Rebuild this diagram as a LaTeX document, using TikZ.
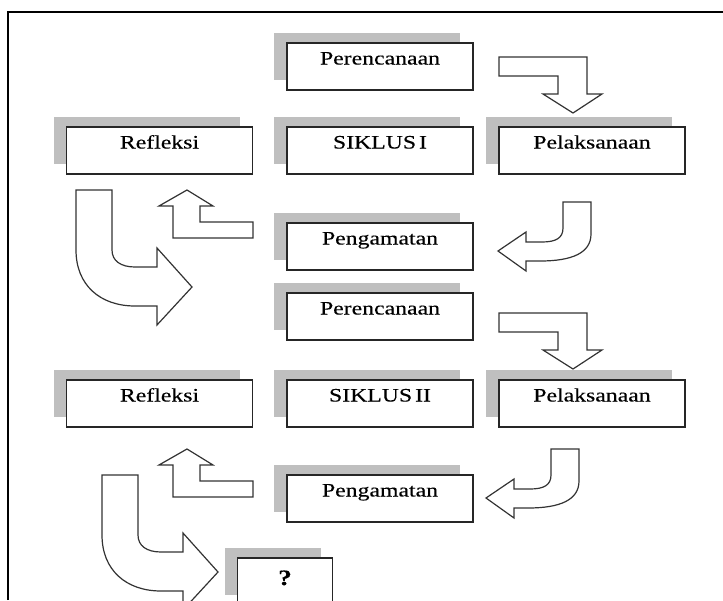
\documentclass[tikz,border=0pt]{standalone}
\usepackage{fontspec}
\setmainfont{Liberation Serif}[FakeStretch=1.25,FakeBold=0.3]
\usetikzlibrary{positioning,shadows}

\tikzset{
  stage/.style={draw=black!85, line width=1.1pt, fill=white, inner sep=0pt,
    minimum width=186pt, text height=21.5pt, text depth=25.5pt,
    font=\fontsize{19}{22}\selectfont,
    general shadow={fill=gray!50, shadow xshift=-13pt, shadow yshift=10pt}},
  blockarrow/.style={draw=black!80, line width=1.2pt, fill=white, line join=miter}
}

\begin{document}
\begin{tikzpicture}[x=1pt,y=-1pt,node distance=84pt,on grid]
		\useasboundingbox (0,0) rectangle (723,600);
		\draw[line width=1.4pt] (8,600) -- (8,12) -- (723,12);
		% siklus I
		\node[stage] (plan1) at (380,66.5) {Perencanaan};
		\node[stage] (cyc1) [below=84pt of plan1] {SIKLUS\hspace{3pt}I};
		\node[stage] (act1) [right=212pt of cyc1] {Pelaksanaan};
		\node[stage] (refl1) [left=220.5pt of cyc1] {Refleksi};
		\node[stage] (obs1) [below=96pt of cyc1] {Pengamatan};
		% siklus II
		\node[stage] (plan2) [below=70pt of obs1] {Perencanaan};
		\node[stage] (cyc2) [below=87pt of plan2] {SIKLUS\hspace{3pt}II};
		\node[stage] (act2) [right=212pt of cyc2] {Pelaksanaan};
		\node[stage] (refl2) [left=220.5pt of cyc2] {Refleksi};
		\node[stage] (obs2) [below=95pt of cyc2] {Pengamatan};
		\node[stage, minimum width=95pt, text height=27pt, text depth=20pt,
		  font=\fontsize{22}{24}\selectfont\bfseries,
		  general shadow={fill=gray!50, shadow xshift=-12pt, shadow yshift=10pt}]
		  (next) at (285,581.5) {?};
		% block arrows, siklus I
		\draw[blockarrow] (499,57) -- (587,57) -- (587,94) -- (602,94) -- (573,113)
		  -- (543,94) -- (558,94) -- (558,76) -- (499,76) -- cycle;
		\draw[blockarrow] (563,202) -- (591,202) -- (591,234)
		  .. controls (591,253) and (572,261) .. (540,261) -- (526,261) -- (526,271)
		  -- (498,251) -- (526,232) -- (526,242) -- (542,242)
		  .. controls (556,242) and (563,238) .. (563,228) -- cycle;
		\draw[blockarrow] (253,222) -- (200,222) -- (200,206) -- (213,206) -- (187,190)
		  -- (159,206) -- (173,206) -- (173,238) -- (253,238) -- cycle;
		\draw[blockarrow] (76,190) -- (112,190) -- (112,250)
		  .. controls (112,261) and (121,267) .. (135,267) -- (157,267) -- (157,248)
		  -- (192,287) -- (157,325) -- (157,306) -- (135,306)
		  .. controls (100,306) and (76,285) .. (76,250) -- cycle;
		% block arrows, siklus II
		\begin{scope}[yshift=-256pt]
		\draw[blockarrow] (499,57) -- (587,57) -- (587,94) -- (602,94) -- (573,113)
		  -- (543,94) -- (558,94) -- (558,76) -- (499,76) -- cycle;
		\end{scope}
		\begin{scope}[xshift=-12pt, yshift=-247pt]
		\draw[blockarrow] (563,202) -- (591,202) -- (591,234)
		  .. controls (591,253) and (572,261) .. (540,261) -- (526,261) -- (526,271)
		  -- (498,251) -- (526,232) -- (526,242) -- (542,242)
		  .. controls (556,242) and (563,238) .. (563,228) -- cycle;
		\end{scope}
		\begin{scope}[yshift=-259pt]
		\draw[blockarrow] (253,222) -- (200,222) -- (200,206) -- (213,206) -- (187,190)
		  -- (159,206) -- (173,206) -- (173,238) -- (253,238) -- cycle;
		\end{scope}
		\begin{scope}[xshift=26pt, yshift=-285pt]
		\draw[blockarrow] (76,190) -- (112,190) -- (112,250)
		  .. controls (112,261) and (121,267) .. (135,267) -- (157,267) -- (157,248)
		  -- (192,287) -- (157,325) -- (157,306) -- (135,306)
		  .. controls (100,306) and (76,285) .. (76,250) -- cycle;
		\end{scope}
\end{tikzpicture}
\end{document}
